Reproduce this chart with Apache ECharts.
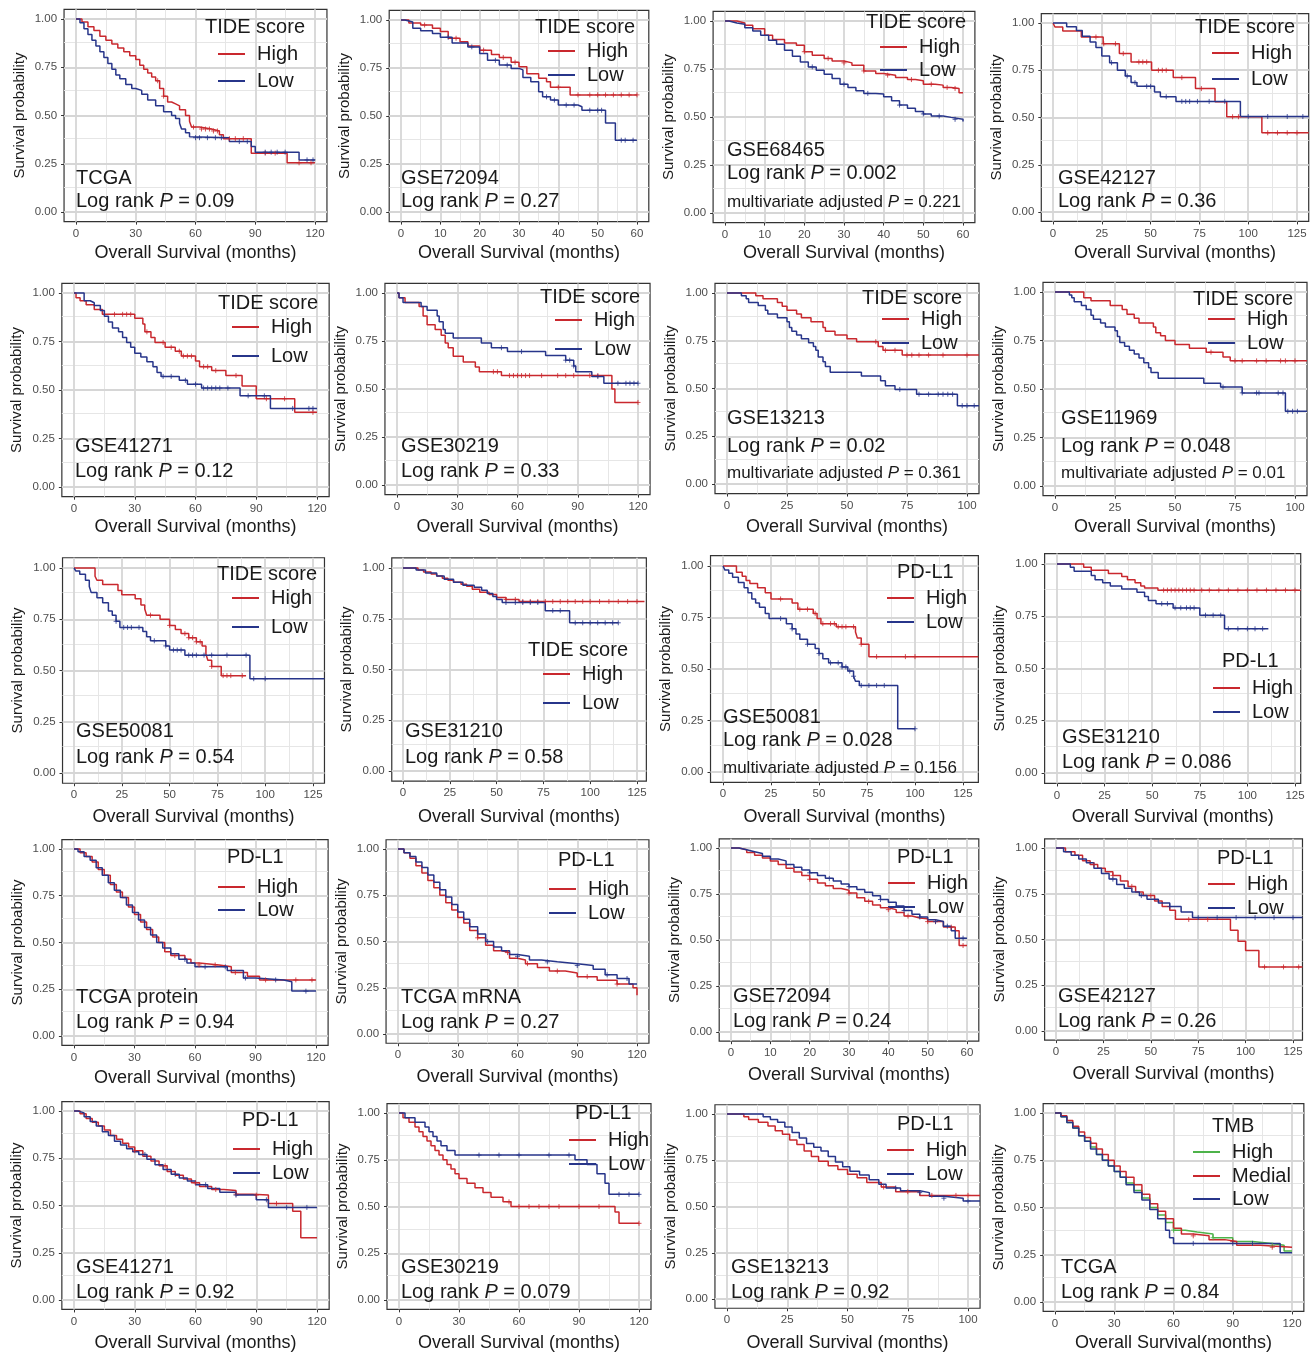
<!DOCTYPE html>
<html><head><meta charset="utf-8">
<script src="https://cdn.jsdelivr.net/npm/echarts@6/dist/echarts.min.js"></script>
<style>html,body{margin:0;padding:0;background:#fff}#c{width:1312px;height:1353px}</style>
</head><body><div id="c"></div><script>
// ---------- tick labels ----------
const ticks120 = [0,30,60,90,120];
const ticks60 = [0,10,20,30,40,50,60];
const ticks125 = [0,25,50,75,100,125];
const ticks100 = [0,25,50,75,100];
const yTicks = [0,0.25,0.5,0.75,1];

// ---------- curves [months, survival] ----------
const tcgaTideHigh = [[0,1],[3,0.985],[6,0.96],[9,0.94],[12,0.91],[15,0.89],[18,0.87],[21,0.85],[24,0.83],[27,0.81],[30,0.79],[32,0.76],[34,0.74],[36,0.72],[38,0.70],[40,0.68],[42,0.64],[44,0.60],[46,0.57],[48,0.56],[50,0.55],[52,0.53],[55,0.50],[57,0.47],[58,0.44],[62,0.43],[68,0.42],[72,0.40],[74,0.38],[88,0.305],[106,0.255],[120,0.255]];
const tcgaTideLow = [[0,1],[2,0.98],[4,0.95],[6,0.92],[8,0.89],[10,0.86],[12,0.83],[14,0.80],[16,0.77],[18,0.74],[20,0.71],[22,0.69],[25,0.66],[28,0.64],[30,0.63],[33,0.61],[36,0.58],[40,0.55],[44,0.52],[48,0.50],[50,0.485],[52,0.46],[53,0.43],[55,0.41],[57,0.39],[58,0.385],[77,0.365],[88,0.34],[90,0.31],[112,0.27],[120,0.27]];
const tcgaTideHighCens = [41,44,59,63,65,67,69,71,77,80,84,95,100,112,118];
const tcgaTideLowCens = [60,62,66,70,73,82,86,95,98,101,105,116,119];

const g72094TideHigh = [[0,1],[2,0.985],[5,0.974],[8,0.957],[10,0.94],[12,0.905],[15,0.887],[17,0.865],[20,0.843],[23,0.82],[25,0.805],[28,0.78],[30,0.757],[32,0.72],[35,0.696],[37,0.678],[38,0.65],[43,0.61],[60,0.61]];
const g72094TideLow = [[0,1],[1,0.99],[3,0.957],[5,0.944],[8,0.93],[10,0.91],[13,0.88],[17,0.86],[20,0.826],[22,0.79],[25,0.765],[28,0.748],[30,0.74],[31,0.70],[33,0.678],[35,0.626],[36,0.60],[38,0.583],[40,0.557],[45,0.548],[46,0.53],[52,0.464],[54.5,0.374],[60,0.374]];
const g72094TideHighCens = [6,14,21,26,29,40,45,48,50,52,54,56,58,60];
const g72094TideLowCens = [12,18,24,27,37,39,42,44,48,50,51,56,57,59];

const g68465TideHigh = [[0,1],[3,0.99],[5,0.978],[7,0.96],[10,0.926],[12,0.903],[15,0.886],[18,0.874],[20,0.84],[22,0.822],[25,0.805],[27,0.792],[30,0.782],[32,0.77],[35,0.74],[38,0.727],[40,0.718],[43,0.706],[46,0.695],[48,0.689],[50,0.671],[53,0.666],[55,0.654],[57,0.649],[59,0.626],[60,0.625]];
const g68465TideLow = [[0,1],[1,0.99],[3,0.983],[5,0.965],[7,0.948],[9,0.926],[11,0.9],[13,0.879],[15,0.848],[17,0.817],[19,0.787],[21,0.761],[23,0.744],[25,0.723],[27,0.70],[29,0.671],[31,0.654],[33,0.637],[35,0.623],[38,0.62],[40,0.606],[42,0.585],[44,0.562],[46,0.545],[48,0.528],[50,0.516],[52,0.505],[55,0.498],[57,0.488],[60,0.476]];
const g68465TideHighCens = [20,26,30,35,41,47,52,56,58];
const g68465TideLowCens = [22,30,36,44,50,54,58];

const g42127TideHigh = [[0,1],[1,0.979],[5,0.958],[14.5,0.926],[25.7,0.89],[34,0.838],[40,0.794],[50.5,0.75],[61.6,0.711],[73,0.653],[83,0.583],[89,0.504],[107,0.419],[131,0.419]];
const g42127TideLow = [[0,1],[7,0.98],[12,0.96],[15,0.93],[19,0.90],[22,0.87],[25,0.825],[29,0.79],[33,0.75],[37,0.72],[40,0.685],[43,0.665],[52,0.635],[55,0.61],[63,0.585],[96,0.505],[131,0.505]];
const g42127TideHighCens = [22,26,32,36,44,46,48,54,56,58,66,76,92,95,110,115,120,125];
const g42127TideLowCens = [30,38,42,48,50,58,66,68,70,74,80,88,100,110,120,128];

const g41271TideHigh = [[0,1],[1,0.975],[3,0.96],[6,0.94],[10,0.915],[14,0.89],[30,0.87],[34,0.84],[35,0.80],[38,0.77],[40,0.745],[45,0.72],[50,0.70],[53,0.675],[60,0.65],[62,0.62],[68,0.60],[75,0.575],[83,0.52],[90,0.455],[109,0.385],[120,0.385]];
const g41271TideLow = [[0,1],[5,0.96],[8,0.95],[10,0.935],[13,0.91],[15,0.88],[17,0.85],[19,0.82],[22,0.80],[24,0.77],[26,0.745],[28,0.72],[30,0.69],[33,0.67],[36,0.645],[39,0.62],[41,0.59],[43,0.57],[52,0.55],[56,0.53],[63,0.51],[82,0.47],[97,0.405],[120,0.405]];
const g41271TideHighCens = [20,24,26,28,36,44,48,52,54,56,58,64,66,70,80,95,104,118];
const g41271TideLowCens = [44,48,55,60,64,66,68,70,72,76,86,94,108,116,118];

const g30219TideHigh = [[0,1],[1,0.975],[4,0.95],[11,0.93],[13,0.88],[15,0.835],[19,0.81],[22,0.78],[24,0.74],[25.5,0.715],[28,0.67],[33,0.64],[39,0.615],[41,0.59],[52,0.57],[107,0.50],[108.5,0.43],[120,0.43]];
const g30219TideLow = [[0,1],[1,0.975],[3,0.95],[12,0.93],[15,0.91],[20,0.88],[21,0.85],[23,0.81],[24,0.79],[28,0.765],[42,0.74],[47,0.715],[55,0.695],[74,0.675],[84,0.65],[88,0.62],[89,0.59],[97,0.565],[103,0.53],[120,0.53]];
const g30219TideHighCens = [48,50,56,58,60,62,64,66,72,80,84,88,96,100,120];
const g30219TideLowCens = [52,62,84,86,88,100,110,114,116,118,120];

const g13213TideHigh = [[0,1],[12,0.985],[15,0.97],[21,0.95],[23,0.93],[25,0.91],[29,0.89],[31,0.87],[35,0.85],[40,0.82],[41,0.80],[45,0.78],[50,0.76],[54,0.745],[63,0.72],[65,0.70],[73,0.675],[105,0.675]];
const g13213TideLow = [[0,1],[6,0.985],[8,0.97],[9,0.95],[13,0.935],[16,0.91],[17,0.89],[21,0.87],[25,0.85],[26,0.82],[27,0.80],[29,0.78],[31,0.76],[34,0.74],[36,0.72],[37,0.70],[38,0.665],[40,0.64],[41,0.615],[43,0.585],[56,0.565],[64,0.54],[66,0.515],[70,0.495],[79,0.47],[96,0.41],[105,0.41]];
const g13213TideHighCens = [62,66,70,75,77,80,84,90,100];
const g13213TideLowCens = [72,80,84,88,90,92,94,98,100,103];

const g11969TideHigh = [[0,1],[12,0.97],[15,0.955],[23,0.93],[28,0.91],[30,0.885],[33,0.865],[35,0.84],[41,0.82],[42,0.79],[44,0.775],[46,0.75],[50,0.73],[56,0.71],[63,0.69],[70,0.665],[73,0.645],[105,0.645]];
const g11969TideLow = [[0,1],[6,0.985],[7,0.97],[8,0.95],[11,0.93],[13,0.91],[15,0.88],[16,0.86],[19,0.84],[21,0.82],[25,0.80],[26,0.77],[27,0.74],[29,0.72],[31,0.70],[33,0.68],[35,0.66],[37,0.635],[39,0.61],[40,0.585],[43,0.555],[62,0.53],[69,0.51],[78,0.48],[96,0.385],[105,0.385]];
const g11969TideHighCens = [65,75,78,84,88,94,96,100];
const g11969TideLowCens = [70,78,84,85,93,95,97,99,101];

const g50081TideHigh = [[0,1],[11,0.96],[12,0.94],[15,0.92],[23,0.89],[25,0.87],[32,0.85],[35,0.82],[37,0.80],[38,0.77],[45,0.75],[50,0.72],[53,0.70],[56,0.68],[60,0.66],[64,0.64],[67,0.62],[69,0.58],[70,0.55],[72,0.52],[77,0.475],[90,0.475]];
const g50081TideLow = [[0,1],[1,0.985],[3,0.97],[6,0.94],[8,0.91],[9,0.88],[12,0.855],[15,0.83],[18,0.79],[20,0.77],[22,0.74],[24,0.71],[36,0.69],[38,0.665],[40,0.645],[48,0.62],[50,0.60],[58,0.575],[92,0.46],[131,0.46]];
const g50081TideHighCens = [40,50,58,60,62,64,66,72,78,80,82,88];
const g50081TideLowCens = [22,26,28,30,34,42,48,52,54,56,60,62,64,68,72,80,90,94,100];

const g31210TideHigh = [[0,1],[8,0.99],[11,0.98],[15,0.97],[18,0.96],[21,0.95],[24,0.94],[27,0.93],[31,0.92],[34,0.91],[37,0.895],[41,0.88],[46,0.87],[50,0.855],[55,0.845],[62,0.835],[129,0.835]];
const g31210TideLow = [[0,1],[7,0.99],[12,0.975],[18,0.96],[22,0.945],[27,0.93],[32,0.915],[38,0.905],[42,0.89],[45,0.875],[48,0.86],[50,0.845],[53,0.83],[76,0.79],[89,0.73],[115,0.73]];
const g31210TideHighCens = [55,60,64,68,72,76,80,84,88,92,96,100,105,110,115,120,125];
const g31210TideLowCens = [55,60,64,68,72,80,84,92,96,100,104,108,112,115];

const g50081PdHigh = [[0,1],[7,0.97],[10,0.95],[12,0.93],[14,0.915],[18,0.895],[22,0.87],[25,0.84],[36,0.82],[39,0.79],[47,0.77],[49,0.745],[51,0.72],[59,0.705],[69,0.68],[70,0.65],[72,0.62],[76,0.56],[133,0.56]];
const g50081PdLow = [[0,1],[1,0.98],[3,0.965],[5,0.945],[8,0.92],[11,0.895],[13,0.87],[15,0.84],[17,0.82],[19,0.80],[22,0.77],[24,0.745],[33,0.72],[36,0.695],[38,0.67],[40,0.645],[44,0.62],[48,0.60],[50,0.575],[52,0.55],[55,0.53],[62,0.51],[65,0.49],[68,0.465],[69,0.44],[71,0.42],[91,0.21],[100,0.21]];
const g50081PdHighCens = [30,40,44,48,52,56,58,60,62,64,68,72,80,95,100];
const g50081PdLowCens = [30,36,44,50,56,60,62,64,66,68,72,76,80,84,100];

const g31210PdHigh = [[0,1],[14,0.985],[18,0.97],[27,0.955],[34,0.94],[37,0.925],[41,0.91],[44,0.895],[46,0.885],[53,0.875],[128,0.875]];
const g31210PdLow = [[0,1],[7,0.985],[9,0.965],[18,0.945],[20,0.925],[24,0.91],[28,0.895],[34,0.88],[42,0.865],[46,0.845],[48,0.825],[52,0.81],[61,0.79],[75,0.755],[88,0.69],[111,0.69]];
const g31210PdHighCens = [56,58,60,62,64,66,68,70,72,76,80,85,90,95,100,105,110,115,120,125];
const g31210PdLowCens = [55,58,62,65,68,70,72,78,82,86,90,95,100,104,108];

const tcgaProtHigh = [[0,1],[3,0.98],[6,0.96],[9,0.93],[12,0.89],[15,0.86],[18,0.81],[21,0.77],[24,0.74],[27,0.69],[30,0.65],[33,0.61],[36,0.57],[39,0.53],[42,0.50],[45,0.45],[48,0.43],[52,0.43],[55,0.41],[58,0.39],[62,0.38],[72,0.37],[78,0.34],[86,0.32],[92,0.30],[120,0.30]];
const tcgaProtLow = [[0,1],[2,0.985],[5,0.96],[8,0.94],[11,0.90],[14,0.86],[17,0.82],[20,0.78],[23,0.74],[26,0.70],[29,0.66],[32,0.62],[35,0.58],[38,0.54],[41,0.50],[44,0.47],[48,0.44],[52,0.41],[56,0.39],[60,0.37],[70,0.37],[76,0.35],[84,0.31],[90,0.30],[104,0.29],[108,0.24],[120,0.24]];
const tcgaProtHighCens = [50,62,70,80,95,110,118];
const tcgaProtLowCens = [55,65,75,85,100,115];

const tcgaMrnaHigh = [[0,1],[3,0.98],[6,0.95],[9,0.91],[12,0.87],[15,0.83],[18,0.79],[21,0.75],[24,0.71],[27,0.67],[30,0.63],[33,0.60],[36,0.56],[40,0.52],[44,0.48],[48,0.45],[52,0.44],[56,0.41],[60,0.40],[64,0.38],[70,0.36],[76,0.34],[84,0.33],[90,0.31],[100,0.29],[110,0.27],[118,0.25],[120,0.21]];
const tcgaMrnaLow = [[0,1],[3,0.98],[6,0.96],[9,0.93],[12,0.90],[15,0.86],[18,0.82],[21,0.78],[24,0.74],[27,0.70],[30,0.66],[33,0.62],[36,0.58],[40,0.54],[44,0.50],[48,0.47],[52,0.45],[56,0.43],[60,0.42],[66,0.40],[72,0.39],[80,0.38],[90,0.37],[98,0.35],[104,0.32],[110,0.30],[116,0.27],[120,0.27]];
const tcgaMrnaHighCens = [40,55,65,80,95,110];
const tcgaMrnaLowCens = [45,60,75,90,105,115];

const g72094PdHigh = [[0,1],[2,0.99],[4,0.975],[6,0.96],[8,0.945],[10,0.93],[12,0.91],[14,0.89],[16,0.87],[18,0.85],[20,0.83],[22,0.81],[24,0.795],[26,0.78],[28,0.77],[30,0.755],[32,0.73],[34,0.71],[36,0.69],[38,0.675],[40,0.665],[42,0.65],[44,0.63],[46,0.62],[48,0.615],[50,0.60],[54,0.57],[57,0.55],[58,0.47],[60,0.47]];
const g72094PdLow = [[0,1],[2,0.99],[4,0.98],[6,0.97],[8,0.955],[10,0.94],[12,0.93],[14,0.91],[16,0.895],[18,0.88],[20,0.865],[22,0.85],[24,0.835],[26,0.82],[28,0.805],[30,0.79],[32,0.775],[34,0.76],[36,0.74],[38,0.72],[40,0.705],[42,0.685],[44,0.66],[46,0.64],[48,0.625],[50,0.61],[52,0.60],[54,0.575],[56,0.55],[57,0.51],[60,0.51]];
const g72094PdHighCens = [20,30,35,40,45,50,52,56,59];
const g72094PdLowCens = [20,25,30,38,44,48,52,55,59];

const g42127PdHigh = [[0,1],[5,0.98],[10,0.96],[14,0.93],[18,0.91],[22,0.89],[26,0.87],[30,0.85],[34,0.82],[38,0.79],[42,0.76],[46,0.74],[52,0.71],[56,0.68],[60,0.66],[63,0.61],[92,0.55],[96,0.49],[100,0.44],[107,0.35],[130,0.35]];
const g42127PdLow = [[0,1],[4,0.98],[8,0.96],[12,0.94],[16,0.92],[20,0.89],[24,0.86],[28,0.83],[32,0.80],[36,0.78],[40,0.76],[44,0.74],[48,0.72],[54,0.70],[60,0.68],[66,0.65],[72,0.62],[130,0.62]];
const g42127PdHighCens = [20,30,40,50,70,80,110,120,128];
const g42127PdLowCens = [30,45,60,75,85,95,105,115,125];

const g41271PdHigh = [[0,1],[3,0.985],[6,0.96],[9,0.94],[12,0.92],[15,0.9],[18,0.87],[21,0.85],[24,0.83],[27,0.81],[30,0.79],[34,0.76],[38,0.735],[42,0.71],[46,0.68],[50,0.66],[54,0.64],[58,0.62],[62,0.60],[68,0.585],[74,0.58],[80,0.56],[88,0.555],[96,0.51],[108,0.47],[112,0.33],[120,0.33]];
const g41271PdLow = [[0,1],[2,0.99],[5,0.97],[8,0.945],[11,0.92],[14,0.89],[17,0.87],[20,0.84],[23,0.82],[26,0.80],[29,0.785],[32,0.77],[36,0.745],[40,0.715],[44,0.69],[48,0.665],[52,0.645],[56,0.63],[60,0.61],[66,0.59],[72,0.57],[80,0.555],[90,0.53],[96,0.49],[120,0.49]];
const g41271PdHighCens = [30,45,60,70,80,90,100];
const g41271PdLowCens = [35,50,65,80,95,105,115];

const g30219PdHigh = [[0,1],[2,0.975],[5,0.95],[8,0.925],[10,0.90],[12,0.875],[14,0.85],[16,0.825],[18,0.80],[20,0.775],[22,0.75],[24,0.725],[26,0.70],[28,0.675],[30,0.65],[34,0.625],[38,0.60],[42,0.575],[46,0.55],[52,0.525],[56,0.50],[108,0.47],[110,0.41],[120,0.41]];
const g30219PdLow = [[0,1],[3,0.975],[8,0.95],[13,0.925],[15,0.90],[17,0.875],[19,0.85],[21,0.825],[24,0.80],[28,0.775],[88,0.75],[94,0.725],[99,0.675],[103,0.625],[105,0.565],[120,0.565]];
const g30219PdHighCens = [55,60,65,70,75,80,90,100,120];
const g30219PdLowCens = [40,50,60,75,85,110,115,120];

const g13213PdHigh = [[0,1],[7,0.985],[9,0.97],[13,0.955],[17,0.935],[20,0.91],[23,0.89],[26,0.86],[29,0.835],[32,0.80],[35,0.77],[38,0.745],[42,0.72],[46,0.70],[50,0.675],[54,0.655],[58,0.63],[64,0.605],[70,0.58],[80,0.56],[105,0.56]];
const g13213PdLow = [[0,1],[15,0.985],[18,0.97],[21,0.955],[24,0.93],[27,0.90],[30,0.87],[33,0.84],[36,0.82],[39,0.80],[42,0.77],[45,0.74],[48,0.715],[51,0.69],[55,0.67],[59,0.645],[63,0.62],[66,0.60],[72,0.585],[80,0.575],[84,0.555],[90,0.545],[98,0.53],[105,0.53]];
const g13213PdHighCens = [65,75,85,95,100];
const g13213PdLowCens = [70,80,90,100];

const tcgaTmbHigh = [[0,1],[3,0.98],[6,0.95],[9,0.92],[12,0.88],[15,0.85],[18,0.82],[21,0.78],[24,0.75],[27,0.72],[30,0.69],[33,0.66],[36,0.63],[40,0.59],[44,0.55],[48,0.50],[52,0.46],[56,0.42],[60,0.38],[66,0.37],[72,0.36],[80,0.34],[90,0.32],[100,0.31],[110,0.30],[116,0.27],[120,0.27]];
const tcgaTmbMedial = [[0,1],[3,0.985],[6,0.96],[9,0.93],[12,0.90],[15,0.87],[18,0.84],[21,0.81],[24,0.78],[27,0.75],[30,0.72],[33,0.69],[36,0.66],[40,0.62],[44,0.57],[48,0.52],[52,0.48],[56,0.44],[60,0.39],[64,0.36],[70,0.35],[78,0.33],[86,0.32],[92,0.30],[104,0.29],[120,0.29]];
const tcgaTmbLow = [[0,1],[3,0.98],[6,0.95],[9,0.92],[12,0.88],[15,0.85],[18,0.81],[21,0.78],[24,0.75],[27,0.72],[30,0.69],[33,0.66],[36,0.62],[40,0.58],[44,0.54],[48,0.49],[52,0.44],[56,0.38],[58,0.34],[60,0.31],[112,0.31],[114,0.26],[120,0.26]];
const tcgaTmbHighCens = [60,80,100,110];
const tcgaTmbMedialCens = [70,90,110];
const tcgaTmbLowCens = [70,90,100];

// ---------- style ----------
const RED = '#c9282e', BLUE = '#27358a', GREEN = '#4db34a';
const FONT = '"Liberation Sans", Arial, Helvetica, sans-serif';
const TXT = '#1a1a1a';

function hl(h, l, hc, lc){ return [{label:'High',data:h,cens:hc,color:RED},{label:'Low',data:l,cens:lc,color:BLUE}]; }

// panel definitions (text + layout)
const panels = [
 {name:'TCGA', p:'0.09', title:'TIDE score', curves:hl(tcgaTideHigh,tcgaTideLow,tcgaTideHighCens,tcgaTideLowCens), xt:ticks120, xr:[-6,126],
  L:{x0:76,xe:315,y1:19,y0:212,xty:253}, lg:{tx:205,ty:27,lx:218,ly:[54,81]}, an:{x:76,y:[178,201]}},
 {name:'GSE72094', p:'0.27', title:'TIDE score', curves:hl(g72094TideHigh,g72094TideLow,g72094TideHighCens,g72094TideLowCens), xt:ticks60, xr:[-3,63],
  L:{x0:401,xe:637,y1:20,y0:212,xty:253}, lg:{tx:535,ty:27,lx:548,ly:[51,75]}, an:{x:401,y:[178,201]}},
 {name:'GSE68465', p:'0.002', mp:'0.221', title:'TIDE score', curves:hl(g68465TideHigh,g68465TideLow,g68465TideHighCens,g68465TideLowCens), xt:ticks60, xr:[-3,63],
  L:{x0:725,xe:963,y1:21,y0:213,xty:253}, lg:{tx:866,ty:22,lx:880,ly:[47,70]}, an:{x:727,y:[150,173,202]}},
 {name:'GSE42127', p:'0.36', title:'TIDE score', curves:hl(g42127TideHigh,g42127TideLow,g42127TideHighCens,g42127TideLowCens), xt:ticks125, xr:[-6,131],
  L:{x0:1053,xe:1297,y1:23,y0:212,xty:253}, lg:{tx:1195,ty:27,lx:1212,ly:[53,79]}, an:{x:1058,y:[178,201]}},

 {name:'GSE41271', p:'0.12', title:'TIDE score', curves:hl(g41271TideHigh,g41271TideLow,g41271TideHighCens,g41271TideLowCens), xt:ticks120, xr:[-6,126],
  L:{x0:74,xe:317,y1:293,y0:487,xty:527}, lg:{tx:218,ty:303,lx:232,ly:[327,356]}, an:{x:75,y:[446,471]}},
 {name:'GSE30219', p:'0.33', title:'TIDE score', curves:hl(g30219TideHigh,g30219TideLow,g30219TideHighCens,g30219TideLowCens), xt:ticks120, xr:[-6,126],
  L:{x0:397,xe:638,y1:293,y0:485,xty:527}, lg:{tx:540,ty:297,lx:555,ly:[320,349]}, an:{x:401,y:[446,471]}},
 {name:'GSE13213', p:'0.02', mp:'0.361', title:'TIDE score', curves:hl(g13213TideHigh,g13213TideLow,g13213TideHighCens,g13213TideLowCens), xt:ticks100, xr:[-5,105],
  L:{x0:727,xe:967,y1:293,y0:484,xty:527}, lg:{tx:862,ty:298,lx:882,ly:[319,343]}, an:{x:727,y:[418,446,473]}},
 {name:'GSE11969', p:'0.048', mp:'0.01', title:'TIDE score', curves:hl(g11969TideHigh,g11969TideLow,g11969TideHighCens,g11969TideLowCens), xt:ticks100, xr:[-5,105],
  L:{x0:1055,xe:1295,y1:292,y0:486,xty:527}, lg:{tx:1193,ty:299,lx:1208,ly:[319,343]}, an:{x:1061,y:[418,446,473]}},

 {name:'GSE50081', p:'0.54', title:'TIDE score', curves:hl(g50081TideHigh,g50081TideLow,g50081TideHighCens,g50081TideLowCens), xt:ticks125, xr:[-6,131],
  L:{x0:74,xe:313,y1:568,y0:773,xty:817}, lg:{tx:217,ty:574,lx:232,ly:[598,627]}, an:{x:76,y:[731,757]}},
 {name:'GSE31210', p:'0.58', title:'TIDE score', curves:hl(g31210TideHigh,g31210TideLow,g31210TideHighCens,g31210TideLowCens), xt:ticks125, xr:[-6,130],
  L:{x0:403,xe:637,y1:568,y0:771,xty:817}, lg:{tx:528,ty:650,lx:543,ly:[674,703]}, an:{x:405,y:[731,757]}},
 {name:'GSE50081', p:'0.028', mp:'0.156', title:'PD-L1', curves:hl(g50081PdHigh,g50081PdLow,g50081PdHighCens,g50081PdLowCens), xt:ticks125, xr:[-6.5,133],
  L:{x0:723,xe:963,y1:566,y0:772,xty:817}, lg:{tx:897,ty:572,lx:887,ly:[598,622]}, an:{x:723,y:[717,740,768]}},
 {name:'GSE31210', p:'0.086', title:'PD-L1', curves:hl(g31210PdHigh,g31210PdLow,g31210PdHighCens,g31210PdLowCens), xt:ticks125, xr:[-6.5,128],
  L:{x0:1057,xe:1295,y1:564,y0:773,xty:817}, lg:{tx:1222,ty:661,lx:1213,ly:[688,712]}, an:{x:1062,y:[737,762]}},

 {name:'TCGA protein', p:'0.94', title:'PD-L1', curves:hl(tcgaProtHigh,tcgaProtLow,tcgaProtHighCens,tcgaProtLowCens), xt:ticks120, xr:[-6,126],
  L:{x0:74,xe:316,y1:849,y0:1036,xty:1078}, lg:{tx:227,ty:857,lx:218,ly:[887,910]}, an:{x:76,y:[997,1022]}},
 {name:'TCGA mRNA', p:'0.27', title:'PD-L1', curves:hl(tcgaMrnaHigh,tcgaMrnaLow,tcgaMrnaHighCens,tcgaMrnaLowCens), xt:ticks120, xr:[-6,126],
  L:{x0:398,xe:637,y1:849,y0:1034,xty:1077}, lg:{tx:558,ty:860,lx:549,ly:[889,913]}, an:{x:401,y:[997,1022]}},
 {name:'GSE72094', p:'0.24', title:'PD-L1', curves:hl(g72094PdHigh,g72094PdLow,g72094PdHighCens,g72094PdLowCens), xt:ticks60, xr:[-3,63],
  L:{x0:731,xe:967,y1:848,y0:1032,xty:1075}, lg:{tx:897,ty:857,lx:888,ly:[883,907]}, an:{x:733,y:[996,1021]}},
 {name:'GSE42127', p:'0.26', title:'PD-L1', curves:hl(g42127PdHigh,g42127PdLow,g42127PdHighCens,g42127PdLowCens), xt:ticks125, xr:[-6,130],
  L:{x0:1056,xe:1293,y1:848,y0:1031,xty:1074}, lg:{tx:1217,ty:858,lx:1208,ly:[884,908]}, an:{x:1058,y:[996,1021]}},

 {name:'GSE41271', p:'0.92', title:'PD-L1', curves:hl(g41271PdHigh,g41271PdLow,g41271PdHighCens,g41271PdLowCens), xt:ticks120, xr:[-6,126],
  L:{x0:74,xe:317,y1:1111,y0:1300,xty:1343}, lg:{tx:242,ty:1120,lx:233,ly:[1149,1173]}, an:{x:76,y:[1267,1292]}},
 {name:'GSE30219', p:'0.079', title:'PD-L1', curves:hl(g30219PdHigh,g30219PdLow,g30219PdHighCens,g30219PdLowCens), xt:ticks120, xr:[-6,126],
  L:{x0:399,xe:639,y1:1113,y0:1300,xty:1343}, lg:{tx:575,ty:1113,lx:569,ly:[1140,1164]}, an:{x:401,y:[1267,1292]}},
 {name:'GSE13213', p:'0.92', title:'PD-L1', curves:hl(g13213PdHigh,g13213PdLow,g13213PdHighCens,g13213PdLowCens), xt:ticks100, xr:[-5,105],
  L:{x0:727,xe:968,y1:1114,y0:1299,xty:1343}, lg:{tx:897,ty:1124,lx:887,ly:[1150,1174]}, an:{x:731,y:[1267,1292]}},
 {name:'TCGA', p:'0.84', title:'TMB', xname:'Overall Survival(months)',
  curves:[{label:'High',data:tcgaTmbHigh,cens:tcgaTmbHighCens,color:GREEN},{label:'Medial',data:tcgaTmbMedial,cens:tcgaTmbMedialCens,color:RED},{label:'Low',data:tcgaTmbLow,cens:tcgaTmbLowCens,color:BLUE}],
  xt:ticks120, xr:[-6,126],
  L:{x0:1055,xe:1292,y1:1113,y0:1302,xty:1343}, lg:{tx:1212,ty:1126,lx:1193,ly:[1152,1176,1199]}, an:{x:1061,y:[1267,1292]}}
];

function survAt(curve, t){
  let v = curve[0][1];
  for (const pt of curve){ if (pt[0] <= t) v = pt[1]; else break; }
  return v;
}
function mids(arr){ const m=[]; for(let i=0;i<arr.length-1;i++) m.push((arr[i]+arr[i+1])/2); return m; }

const grids=[], xAxes=[], yAxes=[], series=[], legends=[], graphics=[];
const MAJ = {color:'#d6d6d6', width:1.8, type:'solid'};
const MIN = {color:'#e6e6e6', width:1, type:'solid'};

panels.forEach((p, i) => {
  const L = p.L;
  const s = (L.xe - L.x0) / p.xt[p.xt.length-1];
  const left = L.x0 + p.xr[0]*s;
  const width = (p.xr[1]-p.xr[0])*s;
  const h = L.y0 - L.y1;
  const top = L.y1 - 0.05*h;
  const height = 1.1*h;
  grids.push({left, top, width, height, show:true, borderColor:'#333333', borderWidth:1.2, backgroundColor:'#ffffff', z:0});
  xAxes.push({type:'value', gridIndex:i, min:p.xr[0], max:p.xr[1],
    axisLine:{show:false, onZero:false}, splitLine:{show:false},
    axisTick:{show:true, customValues:p.xt, length:3, lineStyle:{color:'#333', width:1}},
    axisLabel:{customValues:p.xt, color:'#4d4d4d', fontSize:11.5, margin:6, fontFamily:FONT},
    name:p.xname || 'Overall Survival (months)', nameLocation:'middle', nameGap: L.xty - (top+height) - 9,
    nameTextStyle:{fontSize:18, color:TXT, fontFamily:FONT}});
  yAxes.push({type:'value', gridIndex:i, min:-0.05, max:1.05,
    axisLine:{show:false, onZero:false}, splitLine:{show:false},
    axisTick:{show:true, customValues:yTicks, length:3, lineStyle:{color:'#333', width:1}},
    axisLabel:{customValues:yTicks, color:'#4d4d4d', fontSize:11.5, margin:7, fontFamily:FONT, formatter:v=>Number(v).toFixed(2)},
    name:'Survival probability', nameLocation:'middle', nameRotate:90, nameGap:37,
    nameTextStyle:{fontSize:15, color:TXT, fontFamily:FONT}});

  // gridlines from the tick arrays
  const glData = [];
  mids(p.xt).forEach(v=>glData.push({xAxis:v, lineStyle:MIN}));
  mids(yTicks).forEach(v=>glData.push({yAxis:v, lineStyle:MIN}));
  p.xt.forEach(v=>glData.push({xAxis:v, lineStyle:MAJ}));
  yTicks.forEach(v=>glData.push({yAxis:v, lineStyle:MAJ}));

  p.curves.forEach((c, k) => {
    const sname = 'p'+i+'|'+c.label;
    const ser = {type:'line', name:sname, xAxisIndex:i, yAxisIndex:i, data:c.data, step:'end',
      showSymbol:false, symbol:'none', color:c.color, lineStyle:{width:1.5, color:c.color},
      z:3, silent:true, emphasis:{disabled:true}, animation:false};
    if (k === 0) {
      ser.markLine = {silent:true, symbol:'none', label:{show:false}, z:1, animation:false, data:glData, emphasis:{disabled:true}};
    }
    series.push(ser);
    series.push({type:'scatter', name:sname+'|c', xAxisIndex:i, yAxisIndex:i,
      data:c.cens.map(t=>[t, survAt(c.data, t)]),
      symbol:'path://M0,5L10,5M5,0L5,10', symbolSize:5,
      itemStyle:{color:'rgba(0,0,0,0)', borderColor:c.color, borderWidth:1},
      z:4, silent:true, animation:false});
    legends.push({show:true, data:[sname], left:p.lg.lx, top:p.lg.ly[k]-10, orient:'vertical',
      icon:'rect', itemWidth:27, itemHeight:2, padding:0, selectedMode:false,
      formatter:n=>n.split('|')[1],
      textStyle:{fontSize:20, fontFamily:FONT, color:TXT, lineHeight:20, padding:[0,0,0,7]}});
  });

  // legend title
  graphics.push({type:'text', x:p.lg.tx, y:p.lg.ty, silent:true, z:10,
    style:{text:p.title, fontSize:20, fontFamily:FONT, fill:TXT, align:'left', verticalAlign:'middle'}});
  // annotations
  graphics.push({type:'text', x:p.an.x, y:p.an.y[0], silent:true, z:10,
    style:{text:p.name, fontSize:20, fontFamily:FONT, fill:TXT, align:'left', verticalAlign:'middle'}});
  const rich20 = {n:{fontSize:20,fontFamily:FONT,fill:TXT}, i:{fontSize:20,fontFamily:FONT,fontStyle:'italic',fill:TXT}};
  graphics.push({type:'text', x:p.an.x, y:p.an.y[1], silent:true, z:10,
    style:{text:'{n|Log rank }{i|P}{n| = '+p.p+'}', rich:rich20, align:'left', verticalAlign:'middle'}});
  if (p.mp) {
    const rich17 = {n:{fontSize:17,fontFamily:FONT,fill:TXT}, i:{fontSize:17,fontFamily:FONT,fontStyle:'italic',fill:TXT}};
    graphics.push({type:'text', x:p.an.x, y:p.an.y[2], silent:true, z:10,
      style:{text:'{n|multivariate adjusted }{i|P}{n| = '+p.mp+'}', rich:rich17, align:'left', verticalAlign:'middle'}});
  }
});

const chart = echarts.init(document.getElementById('c'), null, {renderer:'canvas'});
chart.setOption({
  animation:false,
  backgroundColor:'#ffffff',
  grid:grids, xAxis:xAxes, yAxis:yAxes, series:series, legend:legends, graphic:graphics
});
</script></body></html>
